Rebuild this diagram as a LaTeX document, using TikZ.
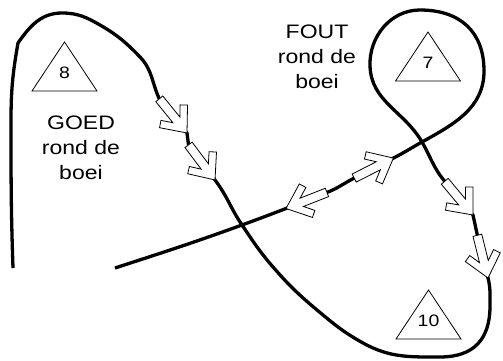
\documentclass[tikz,border=0pt]{standalone}
\usepackage{fontspec}
\setmainfont{Liberation Sans}
\usetikzlibrary{calc}
\tikzset{
  koers/.style={line width=3.3pt, line join=round},
  pijl/.style={draw, fill=white, line width=0.8pt},
  boeilijn/.style={line width=0.8pt},
  tekst/.style={align=center, inner sep=0pt, xscale=1.18,
    font=\fontsize{19.5}{25}\selectfont},
  nummer/.style={inner sep=0pt, xscale=1.18, font=\fontsize{16.5}{18}\selectfont}
}
\begin{document}
\begin{tikzpicture}[x=1pt,y=1pt]
\useasboundingbox (0,0) rectangle (503,361);

% kruispunten van de koers
\coordinate (C1) at (242,136);
\coordinate (C2) at (422,219);
% pijlen: punt (A) en achterkant (B)
\foreach \n/\x/\y/\a in {1/187/228/-51, 2/215/181/-53, 3/473/146/-50,
    4/488/83/-76, 5/393.4/202.9/27, 6/286/152.5/201.4}{
  \coordinate (A\n) at (\x,\y);
  \coordinate (B\n) at ($(A\n)+(\a+180:44)$);
}

\draw[koers] (13,93) to[out=92,in=-90] (11,240) to[out=90,in=-100] (18,318)
  to[out=55,in=180] (62,348) to[out=0,in=150] (100,336)
  to[out=-30,in=134] (140,304) to[out=-46,in=115] (B1) -- (A1) -- (B2) -- (A2)
  to[out=-53,in=124] (C1) to[out=-56,in=131] (273,94) to[out=-49,in=140] (317,51)
  to[out=-40,in=151] (363,18) to[out=-29,in=180] (440,4)
  to[out=0,in=-90,looseness=1.2] (490,55) to[out=90,in=-76] (A4) -- (B4) -- (A3) -- (B3)
  to[out=130,in=-60] (C2) to[out=120,in=-88] (370,295) to[out=92,in=180] (420,351)
  to[out=0,in=90,looseness=1.15] (484,290) to[out=-90,in=29] (C2)
  to[out=209,in=27] (A5) -- (B5) to[out=207,in=21] (B6) -- (A6)
  to[out=201,in=20] (C1) to[out=200,in=18] (115,93);

\foreach \n/\a in {1/-51, 2/-53, 3/-50, 4/-76, 5/27, 6/201.4}
  \draw[pijl, shift={(A\n)}, rotate=\a] (0,0) -- (-21.4,18) -- (-26.2,12.3)
    -- (-16.9,4.5) -- (-44,4.5) -- (-44,-4.5) -- (-16.9,-4.5) -- (-26.2,-12.3)
    -- (-21.4,-18) -- cycle;

\foreach \n/\x/\y in {8/64.5/270, 7/428/280, 10/428.5/22}{
  \draw[boeilijn] (\x-32.5,\y) -- (\x,\y+49) -- (\x+32.5,\y) -- cycle;
  \node[nummer] (boei\n) at (\x,\y+18) {\n};
}

\node[tekst, anchor=north] (goed) at (81,245) {GOED\\rond de\\boei};
\node[tekst, anchor=north] (fout) at (317,336) {FOUT\\rond de\\boei};
\end{tikzpicture}
\end{document}
